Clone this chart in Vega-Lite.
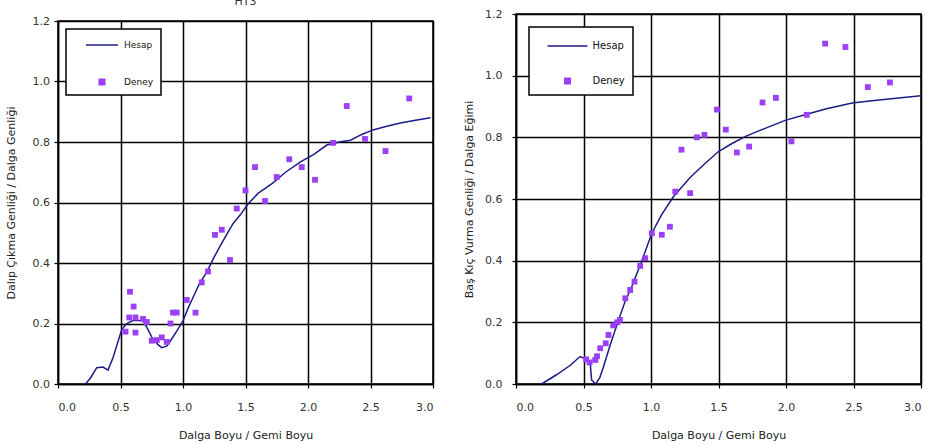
{
  "$schema": "https://vega.github.io/schema/vega-lite/v6.json",
  "background": "white",
  "padding": {"left": 4, "top": -5, "right": 0, "bottom": 0},
  "spacing": 27,
  "config": {
    "font": "DejaVu Sans",
    "view": {"stroke": "black", "strokeWidth": 1.5},
    "axis": {
      "grid": true, "gridColor": "black", "gridWidth": 1.5, "gridOpacity": 1,
      "domainColor": "black", "domainWidth": 1.5,
      "tickColor": "black", "tickSize": 4, "tickWidth": 1.2,
      "labelFontSize": 11, "labelColor": "#333", "labelFont": "DejaVu Sans",
      "titleFontSize": 11, "titleFontWeight": "normal", "titleColor": "#222", "titleFont": "DejaVu Sans"
    },
    "legend": {
      "orient": "top-left", "title": null,
      "strokeColor": "black", "fillColor": "white",
      "labelColor": "#111", "labelFont": "DejaVu Sans"
    }
  },
  "resolve": {"scale": {"color": "independent"}, "legend": {"color": "independent"}},
  "datasets": {
    "baslik": [{"metin": "HT3"}],
    "dalip_hesap": [
      {"x": 0.22, "y": 0.0, "seri": "Hesap"}, {"x": 0.26, "y": 0.02, "seri": "Hesap"},
      {"x": 0.31, "y": 0.054, "seri": "Hesap"}, {"x": 0.36, "y": 0.056, "seri": "Hesap"},
      {"x": 0.40, "y": 0.046, "seri": "Hesap"}, {"x": 0.44, "y": 0.087, "seri": "Hesap"},
      {"x": 0.48, "y": 0.14, "seri": "Hesap"}, {"x": 0.51, "y": 0.18, "seri": "Hesap"},
      {"x": 0.55, "y": 0.20, "seri": "Hesap"}, {"x": 0.60, "y": 0.21, "seri": "Hesap"},
      {"x": 0.68, "y": 0.21, "seri": "Hesap"}, {"x": 0.72, "y": 0.18, "seri": "Hesap"},
      {"x": 0.75, "y": 0.155, "seri": "Hesap"}, {"x": 0.80, "y": 0.13, "seri": "Hesap"},
      {"x": 0.83, "y": 0.12, "seri": "Hesap"}, {"x": 0.87, "y": 0.125, "seri": "Hesap"},
      {"x": 0.90, "y": 0.143, "seri": "Hesap"}, {"x": 0.95, "y": 0.175, "seri": "Hesap"},
      {"x": 1.00, "y": 0.209, "seri": "Hesap"}, {"x": 1.04, "y": 0.25, "seri": "Hesap"},
      {"x": 1.08, "y": 0.286, "seri": "Hesap"}, {"x": 1.13, "y": 0.33, "seri": "Hesap"},
      {"x": 1.19, "y": 0.37, "seri": "Hesap"}, {"x": 1.25, "y": 0.42, "seri": "Hesap"},
      {"x": 1.30, "y": 0.458, "seri": "Hesap"}, {"x": 1.35, "y": 0.495, "seri": "Hesap"},
      {"x": 1.40, "y": 0.53, "seri": "Hesap"}, {"x": 1.46, "y": 0.56, "seri": "Hesap"},
      {"x": 1.52, "y": 0.595, "seri": "Hesap"}, {"x": 1.60, "y": 0.63, "seri": "Hesap"},
      {"x": 1.72, "y": 0.665, "seri": "Hesap"}, {"x": 1.82, "y": 0.70, "seri": "Hesap"},
      {"x": 1.94, "y": 0.734, "seri": "Hesap"}, {"x": 2.05, "y": 0.76, "seri": "Hesap"},
      {"x": 2.15, "y": 0.79, "seri": "Hesap"}, {"x": 2.25, "y": 0.80, "seri": "Hesap"},
      {"x": 2.34, "y": 0.806, "seri": "Hesap"}, {"x": 2.43, "y": 0.825, "seri": "Hesap"},
      {"x": 2.52, "y": 0.84, "seri": "Hesap"}, {"x": 2.63, "y": 0.852, "seri": "Hesap"},
      {"x": 2.74, "y": 0.863, "seri": "Hesap"}, {"x": 2.86, "y": 0.872, "seri": "Hesap"},
      {"x": 2.98, "y": 0.88, "seri": "Hesap"}
    ],
    "dalip_deney": [
      {"x": 0.576, "y": 0.305, "seri": "Deney"}, {"x": 0.605, "y": 0.256, "seri": "Deney"},
      {"x": 0.57, "y": 0.22, "seri": "Deney"}, {"x": 0.62, "y": 0.22, "seri": "Deney"},
      {"x": 0.68, "y": 0.215, "seri": "Deney"}, {"x": 0.71, "y": 0.205, "seri": "Deney"},
      {"x": 0.54, "y": 0.173, "seri": "Deney"}, {"x": 0.62, "y": 0.17, "seri": "Deney"},
      {"x": 0.75, "y": 0.143, "seri": "Deney"}, {"x": 0.79, "y": 0.145, "seri": "Deney"},
      {"x": 0.83, "y": 0.154, "seri": "Deney"}, {"x": 0.87, "y": 0.139, "seri": "Deney"},
      {"x": 0.90, "y": 0.20, "seri": "Deney"}, {"x": 0.92, "y": 0.236, "seri": "Deney"},
      {"x": 0.95, "y": 0.236, "seri": "Deney"}, {"x": 1.03, "y": 0.278, "seri": "Deney"},
      {"x": 1.10, "y": 0.236, "seri": "Deney"}, {"x": 1.15, "y": 0.336, "seri": "Deney"},
      {"x": 1.20, "y": 0.372, "seri": "Deney"}, {"x": 1.376, "y": 0.41, "seri": "Deney"},
      {"x": 1.256, "y": 0.493, "seri": "Deney"}, {"x": 1.31, "y": 0.51, "seri": "Deney"},
      {"x": 1.43, "y": 0.58, "seri": "Deney"}, {"x": 1.50, "y": 0.64, "seri": "Deney"},
      {"x": 1.576, "y": 0.717, "seri": "Deney"}, {"x": 1.656, "y": 0.605, "seri": "Deney"},
      {"x": 1.75, "y": 0.684, "seri": "Deney"}, {"x": 1.85, "y": 0.743, "seri": "Deney"},
      {"x": 1.95, "y": 0.717, "seri": "Deney"}, {"x": 2.056, "y": 0.675, "seri": "Deney"},
      {"x": 2.20, "y": 0.797, "seri": "Deney"}, {"x": 2.31, "y": 0.919, "seri": "Deney"},
      {"x": 2.456, "y": 0.81, "seri": "Deney"}, {"x": 2.62, "y": 0.77, "seri": "Deney"},
      {"x": 2.81, "y": 0.944, "seri": "Deney"}
    ],
    "bas_hesap": [
      {"x": 0.19, "y": 0.0, "seri": "Hesap"}, {"x": 0.30, "y": 0.03, "seri": "Hesap"},
      {"x": 0.40, "y": 0.06, "seri": "Hesap"}, {"x": 0.475, "y": 0.089, "seri": "Hesap"},
      {"x": 0.52, "y": 0.08, "seri": "Hesap"}, {"x": 0.55, "y": 0.067, "seri": "Hesap"},
      {"x": 0.56, "y": 0.013, "seri": "Hesap"}, {"x": 0.59, "y": 0.0, "seri": "Hesap"},
      {"x": 0.62, "y": 0.02, "seri": "Hesap"}, {"x": 0.648, "y": 0.056, "seri": "Hesap"},
      {"x": 0.70, "y": 0.13, "seri": "Hesap"}, {"x": 0.76, "y": 0.208, "seri": "Hesap"},
      {"x": 0.81, "y": 0.27, "seri": "Hesap"}, {"x": 0.858, "y": 0.316, "seri": "Hesap"},
      {"x": 0.93, "y": 0.397, "seri": "Hesap"}, {"x": 1.006, "y": 0.489, "seri": "Hesap"},
      {"x": 1.08, "y": 0.55, "seri": "Hesap"}, {"x": 1.167, "y": 0.608, "seri": "Hesap"},
      {"x": 1.29, "y": 0.67, "seri": "Hesap"}, {"x": 1.40, "y": 0.715, "seri": "Hesap"},
      {"x": 1.50, "y": 0.754, "seri": "Hesap"}, {"x": 1.60, "y": 0.78, "seri": "Hesap"},
      {"x": 1.70, "y": 0.803, "seri": "Hesap"}, {"x": 1.85, "y": 0.83, "seri": "Hesap"},
      {"x": 1.994, "y": 0.855, "seri": "Hesap"}, {"x": 2.14, "y": 0.873, "seri": "Hesap"},
      {"x": 2.30, "y": 0.893, "seri": "Hesap"}, {"x": 2.49, "y": 0.911, "seri": "Hesap"},
      {"x": 2.62, "y": 0.918, "seri": "Hesap"}, {"x": 2.76, "y": 0.924, "seri": "Hesap"},
      {"x": 3.0, "y": 0.935, "seri": "Hesap"}
    ],
    "bas_deney": [
      {"x": 0.52, "y": 0.08, "seri": "Deney"}, {"x": 0.545, "y": 0.07, "seri": "Deney"},
      {"x": 0.587, "y": 0.078, "seri": "Deney"}, {"x": 0.60, "y": 0.09, "seri": "Deney"},
      {"x": 0.624, "y": 0.116, "seri": "Deney"}, {"x": 0.665, "y": 0.132, "seri": "Deney"},
      {"x": 0.685, "y": 0.159, "seri": "Deney"}, {"x": 0.72, "y": 0.19, "seri": "Deney"},
      {"x": 0.75, "y": 0.20, "seri": "Deney"}, {"x": 0.77, "y": 0.208, "seri": "Deney"},
      {"x": 0.81, "y": 0.278, "seri": "Deney"}, {"x": 0.846, "y": 0.305, "seri": "Deney"},
      {"x": 0.878, "y": 0.332, "seri": "Deney"}, {"x": 0.92, "y": 0.383, "seri": "Deney"},
      {"x": 0.957, "y": 0.408, "seri": "Deney"}, {"x": 1.006, "y": 0.489, "seri": "Deney"},
      {"x": 1.08, "y": 0.484, "seri": "Deney"}, {"x": 1.14, "y": 0.51, "seri": "Deney"},
      {"x": 1.18, "y": 0.624, "seri": "Deney"}, {"x": 1.29, "y": 0.619, "seri": "Deney"},
      {"x": 1.226, "y": 0.76, "seri": "Deney"}, {"x": 1.34, "y": 0.80, "seri": "Deney"},
      {"x": 1.396, "y": 0.808, "seri": "Deney"}, {"x": 1.488, "y": 0.89, "seri": "Deney"},
      {"x": 1.554, "y": 0.825, "seri": "Deney"}, {"x": 1.636, "y": 0.751, "seri": "Deney"},
      {"x": 1.727, "y": 0.77, "seri": "Deney"}, {"x": 1.826, "y": 0.913, "seri": "Deney"},
      {"x": 1.925, "y": 0.928, "seri": "Deney"}, {"x": 2.04, "y": 0.787, "seri": "Deney"},
      {"x": 2.154, "y": 0.873, "seri": "Deney"}, {"x": 2.29, "y": 1.104, "seri": "Deney"},
      {"x": 2.44, "y": 1.093, "seri": "Deney"}, {"x": 2.606, "y": 0.963, "seri": "Deney"},
      {"x": 2.77, "y": 0.978, "seri": "Deney"}
    ]
  },
  "hconcat": [
    {
      "spacing": -2,
      "resolve": {"scale": {"color": "independent"}, "legend": {"color": "independent"}},
      "vconcat": [
        {
          "width": 375,
          "height": 1.5,
          "view": {"stroke": null},
          "data": {"name": "baslik"},
          "mark": {"type": "text", "baseline": "bottom", "fontSize": 11, "dy": -8, "font": "DejaVu Sans", "color": "#333"},
          "encoding": {"text": {"field": "metin", "type": "nominal"}}
        },
        {
          "width": 375,
          "height": 363,
          "layer": [
            {
              "data": {"name": "dalip_hesap"},
              "mark": {"type": "line", "strokeWidth": 1.5},
              "encoding": {
                "x": {"field": "x", "type": "quantitative", "scale": {"domain": [0, 3], "nice": false},
                      "axis": {"values": [0, 0.5, 1, 1.5, 2, 2.5, 3], "format": ".1f", "title": "Dalga Boyu / Gemi Boyu", "labelPadding": 13, "titlePadding": 17}},
                "y": {"field": "y", "type": "quantitative", "scale": {"domain": [0, 1.2], "nice": false},
                      "axis": {"values": [0, 0.2, 0.4, 0.6, 0.8, 1.0, 1.2], "format": ".1f", "title": "Dalıp Çıkma Genliği / Dalga Genliği", "labelPadding": 4.5, "titlePadding": 16}},
                "color": {"field": "seri", "type": "nominal",
                          "scale": {"domain": ["Hesap", "Deney"], "range": ["#1c1c86", "#9a40f5"]},
                          "legend": {"offset": 8, "padding": 7, "rowPadding": 23, "symbolOffset": 20, "labelOffset": 13, "labelFontSize": 9,
                                     "encode": {
                                       "legend": {"update": {"strokeWidth": {"value": 1.5}}},
                                       "symbols": {"update": {
                                         "shape": {"signal": "datum.value === 'Hesap' ? 'M-2,0L2,0' : 'M-0.35,-0.35L0.35,-0.35L0.35,0.35L-0.35,0.35Z'"},
                                         "size": {"value": 256},
                                         "fill": {"signal": "datum.value === 'Hesap' ? 'transparent' : '#9a40f5'"},
                                         "stroke": {"signal": "datum.value === 'Hesap' ? '#1c1c86' : 'transparent'"},
                                         "strokeWidth": {"value": 1.5},
                                         "opacity": {"value": 1}}}}}}
              }
            },
            {
              "data": {"name": "dalip_deney"},
              "mark": {"type": "point", "shape": "square", "filled": true, "size": 34, "opacity": 1},
              "encoding": {
                "x": {"field": "x", "type": "quantitative"},
                "y": {"field": "y", "type": "quantitative"},
                "color": {"field": "seri", "type": "nominal"}
              }
            }
          ]
        }
      ]
    },
    {
      "width": 405,
      "height": 370,
      "layer": [
        {
          "data": {"name": "bas_hesap"},
          "mark": {"type": "line", "strokeWidth": 1.5},
          "encoding": {
            "x": {"field": "x", "type": "quantitative", "scale": {"domain": [0, 3], "nice": false},
                  "axis": {"values": [0, 0.5, 1, 1.5, 2, 2.5, 3], "format": ".1f", "title": "Dalga Boyu / Gemi Boyu", "labelPadding": 13, "titlePadding": 17}},
            "y": {"field": "y", "type": "quantitative", "scale": {"domain": [0, 1.2], "nice": false},
                  "axis": {"values": [0, 0.2, 0.4, 0.6, 0.8, 1.0, 1.2], "format": ".1f", "title": "Baş Kıç Vurma Genliği / Dalga Eğimi", "labelPadding": 10, "titlePadding": 10}},
            "color": {"field": "seri", "type": "nominal",
                      "scale": {"domain": ["Hesap", "Deney"], "range": ["#1c1c86", "#9a40f5"]},
                      "legend": {"offset": 13, "padding": 8, "rowPadding": 19, "symbolOffset": 19.5, "labelOffset": 14, "labelFontSize": 10,
                                 "encode": {
                                   "legend": {"update": {"strokeWidth": {"value": 1.5}}},
                                   "symbols": {"update": {
                                     "shape": {"signal": "datum.value === 'Hesap' ? 'M-2,0L2,0' : 'M-0.28,-0.28L0.28,-0.28L0.28,0.28L-0.28,0.28Z'"},
                                     "size": {"value": 400},
                                     "fill": {"signal": "datum.value === 'Hesap' ? 'transparent' : '#9a40f5'"},
                                     "stroke": {"signal": "datum.value === 'Hesap' ? '#1c1c86' : 'transparent'"},
                                     "strokeWidth": {"value": 1.5},
                                     "opacity": {"value": 1}}}}}}
          }
        },
        {
          "data": {"name": "bas_deney"},
          "mark": {"type": "point", "shape": "square", "filled": true, "size": 34, "opacity": 1},
          "encoding": {
            "x": {"field": "x", "type": "quantitative"},
            "y": {"field": "y", "type": "quantitative"},
            "color": {"field": "seri", "type": "nominal"}
          }
        }
      ]
    }
  ]
}
